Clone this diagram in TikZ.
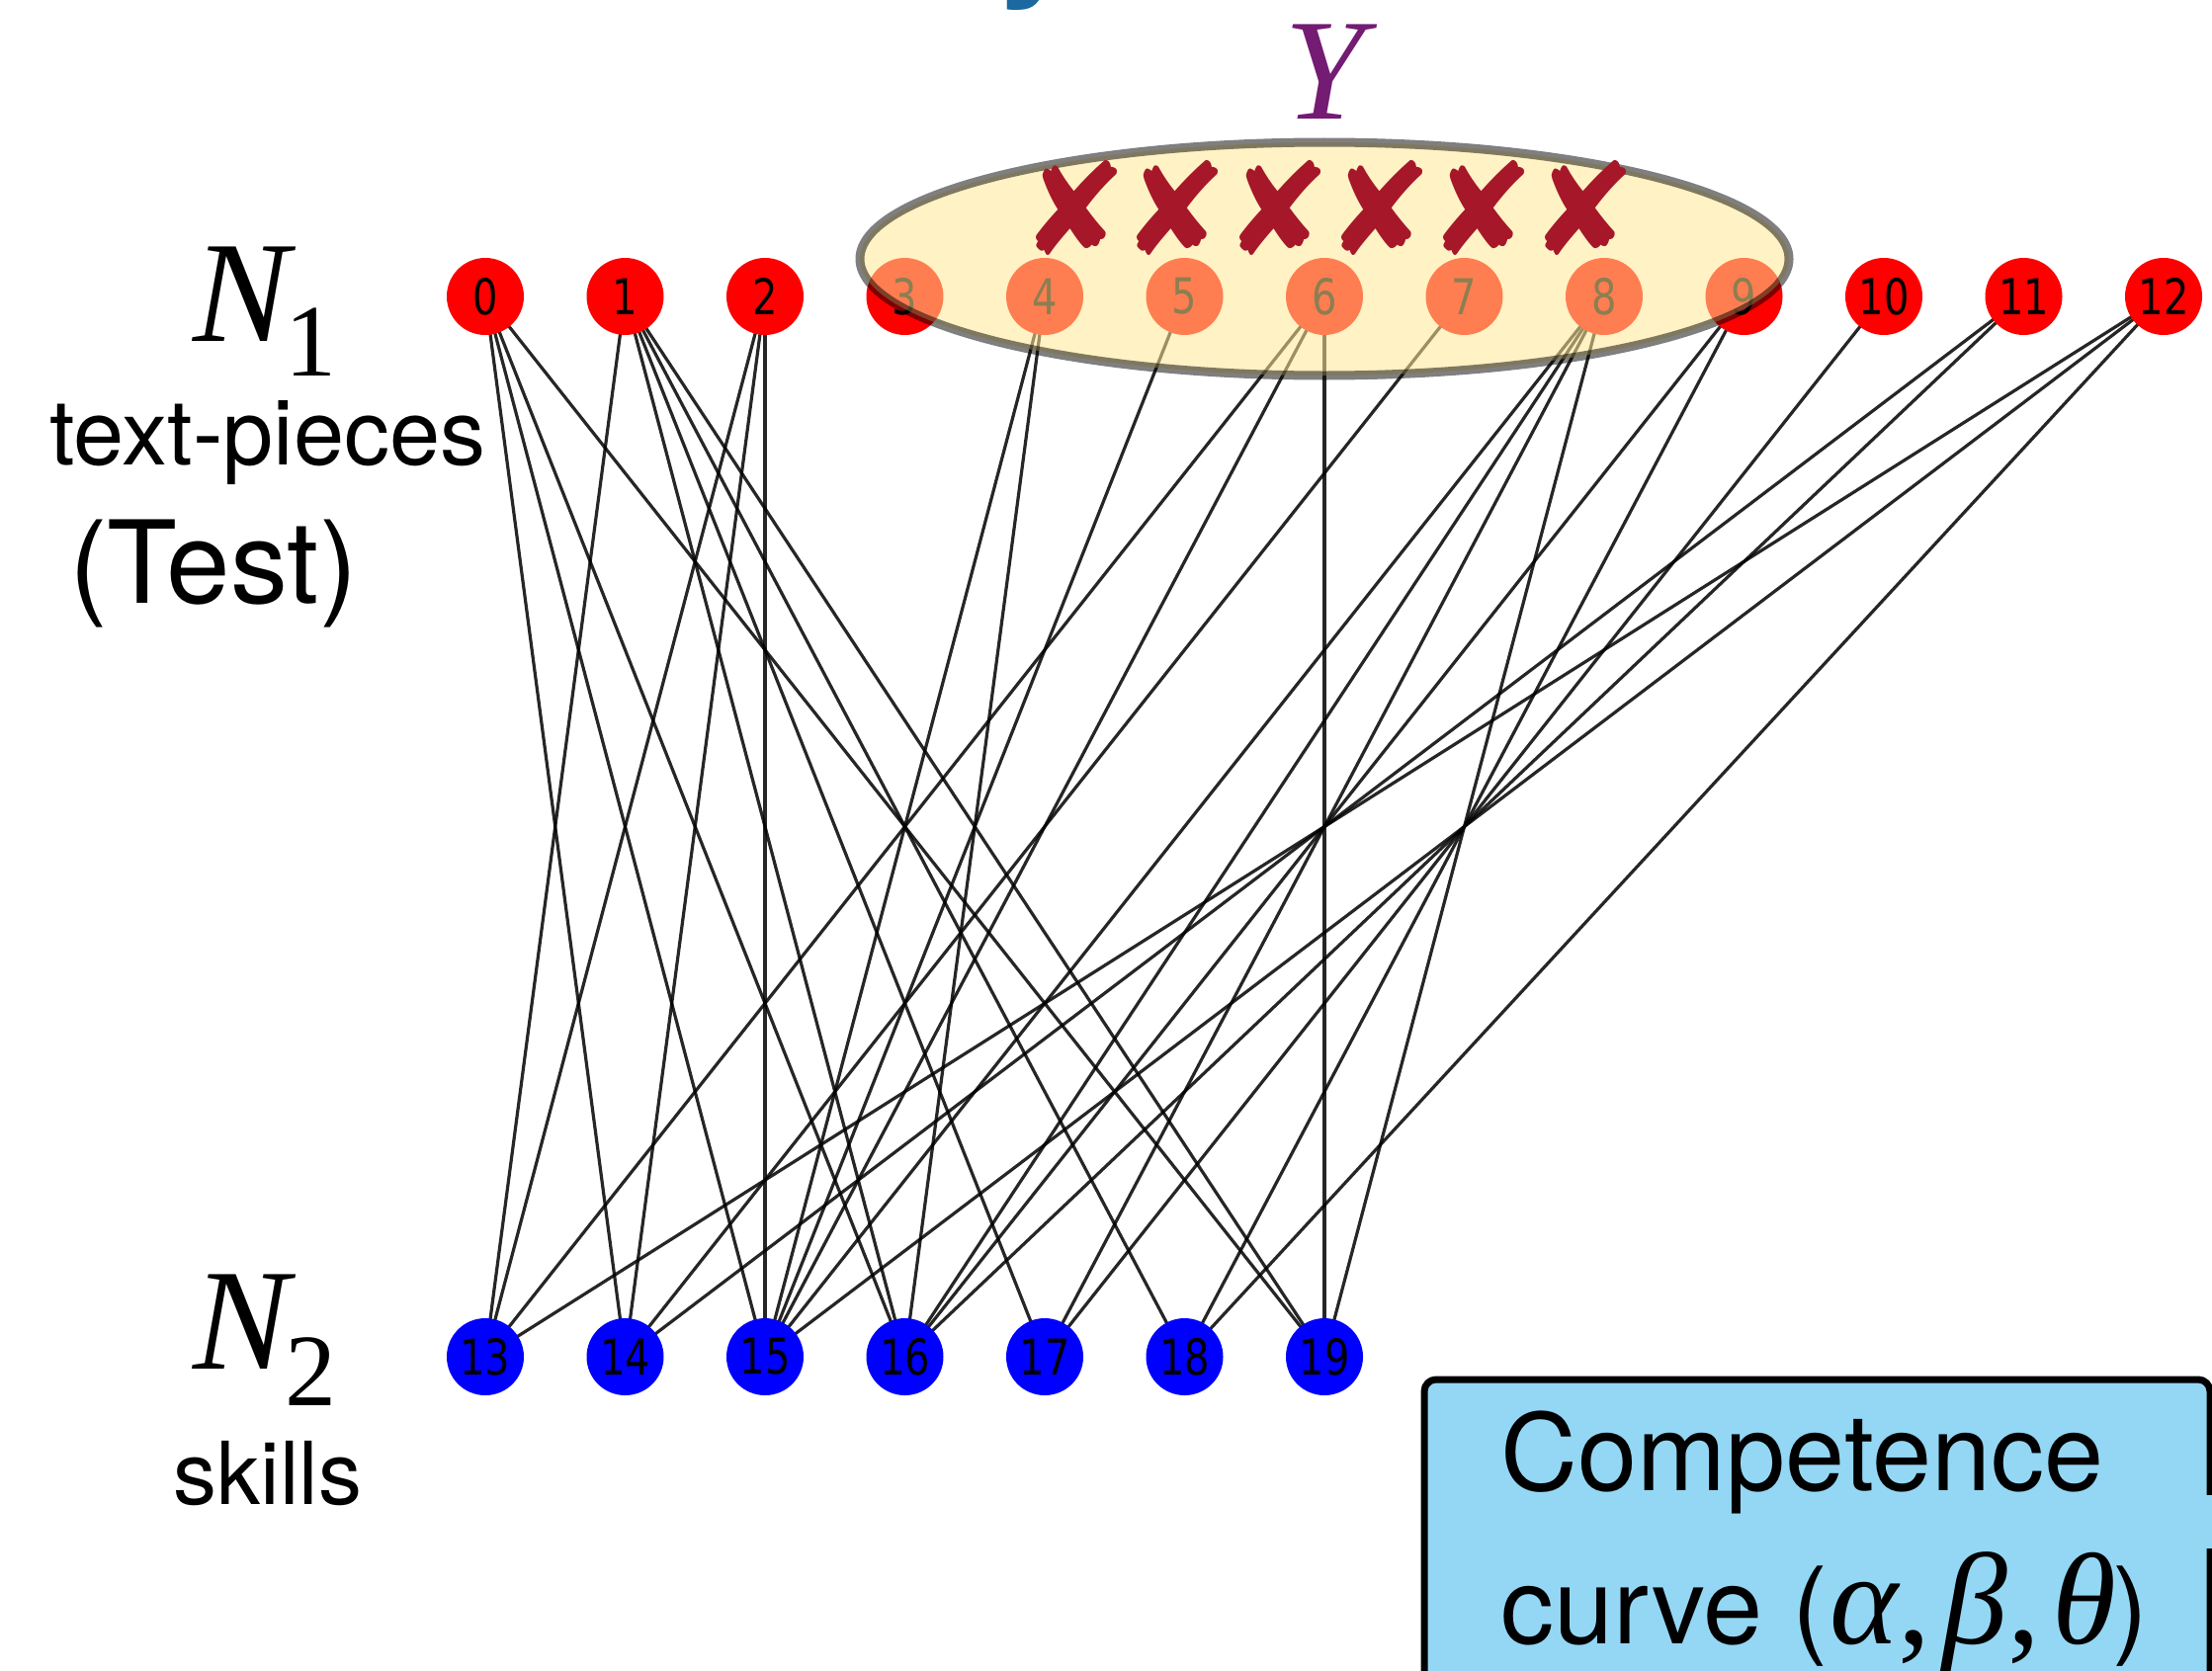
\documentclass[tikz,border=0pt]{standalone}
\usepackage{fontspec}
\setmainfont{TeX Gyre Heros}
\newfontfamily\nodefont[FakeStretch=0.8]{DejaVu Sans}
\newfontfamily\markfont{DejaVu Sans}
\newfontfamily\serifit{Liberation Serif}
\usetikzlibrary{backgrounds}
\definecolor{ellfill}{RGB}{255,231,148}
\definecolor{crosscol}{RGB}{165,23,41}
\definecolor{boxfill}{RGB}{148,215,244}
\definecolor{ypurple}{RGB}{116,27,115}
\definecolor{titleblue}{RGB}{26,105,160}
\newcommand\gkfont{\serifit\itshape\fontsize{66}{66}\selectfont}
\newcommand\gkcomma{{\serifit\upshape\fontsize{66}{66}\selectfont,}}
\begin{document}
\begin{tikzpicture}[x=0.5pt,y=-0.5pt,
  topnode/.style={circle,fill=red,minimum size=39pt,inner sep=0pt,font=\nodefont\fontsize{25}{25}\selectfont},
  botnode/.style={circle,fill=blue,minimum size=39pt,inner sep=0pt,font=\nodefont\fontsize{25}{25}\selectfont},
  link/.style={line width=1.6pt,black,draw opacity=0.85},
  lbl/.style={inner sep=0pt,anchor=base},
  crossmark/.style={text=crosscol,font=\markfont\fontsize{65}{65}\selectfont,inner sep=0pt},
]
\useasboundingbox (0,0) rectangle (2238,1691);

% cut-off title glyph at the top
\begin{scope}
\clip (0,0) rectangle (2238,1691);
\node[lbl,text=titleblue,font=\bfseries\fontsize{80}{80}\selectfont] (title) at (1050,-24) {y};
\end{scope}

% nodes
\foreach \i in {0,...,12}
  \node[topnode] (t\i) at ({491+141.5*\i},300) {\i};
\foreach \j [count=\k from 0] in {13,...,19}
  \node[botnode] (b\j) at ({491+141.5*\k},1373) {\j};

% edges
\begin{scope}[on background layer]
\foreach \a/\b in {0/14,0/15,0/16,0/19,
                   1/13,1/16,1/17,1/18,1/19,
                   2/13,2/14,2/15,
                   4/15,4/16,
                   5/15,
                   6/13,6/15,6/19,
                   7/14,
                   8/15,8/16,8/17,8/19,
                   9/16,9/18,
                   10/17,
                   11/14,11/16,
                   12/13,12/15,12/18}
  \draw[link] (t\a.center) -- (b\b.center);
\end{scope}

% selection ellipse
\fill[ellfill,fill opacity=0.55] (1340,262) ellipse [x radius=470,y radius=118];
\draw[black,draw opacity=0.5,line width=4.5pt] (1340,262) ellipse [x radius=470,y radius=118];

% crosses
\foreach \x [count=\c] in {1087,1189,1293,1396,1499,1602}
  \node[crossmark] (x\c) at (\x,210) {✘};

% Y label
\node[lbl,text=ypurple,font=\serifit\itshape\fontsize{73}{73}\selectfont] (ylab) at (1340,121) {Y};

% left labels
\node[lbl,anchor=base west,font=\serifit\fontsize{73}{73}\selectfont] (n1) at (195,345)
  {\itshape N\upshape\kern-2pt\raisebox{-17.5pt}{\fontsize{52}{52}\selectfont 1}};
\node[lbl,font=\fontsize{46}{46}\selectfont] (tp) at (271,470) {text-pieces};
\node[lbl,font=\fontsize{58}{58}\selectfont] (test) at (216,610) {(Test)};
\node[lbl,anchor=base west,font=\serifit\fontsize{73}{73}\selectfont] (n2) at (195,1385)
  {\itshape N\upshape\kern-2pt\raisebox{-18.5pt}{\fontsize{52}{52}\selectfont 2}};
\node[lbl,font=\fontsize{44}{44}\selectfont] (sk) at (271,1522) {skills};

% competence box
\draw[fill=boxfill,line width=3.5pt,rounded corners=6pt] (1441,1396) rectangle (2236,1740);
\fill[boxfill] (2229,1513) rectangle (2240,1567);
\node[lbl,anchor=base west,font=\fontsize{54}{54}\selectfont] (comp) at (1518,1508) {Competence};
\node[lbl,anchor=base west,font=\fontsize{54}{54}\selectfont] (curve) at (1518,1663)
  {curve (\kern1pt{\gkfont α}\gkcomma\kern6pt{\gkfont β}\gkcomma\kern6pt{\gkfont θ}\kern-2pt)};
\end{tikzpicture}
\end{document}
